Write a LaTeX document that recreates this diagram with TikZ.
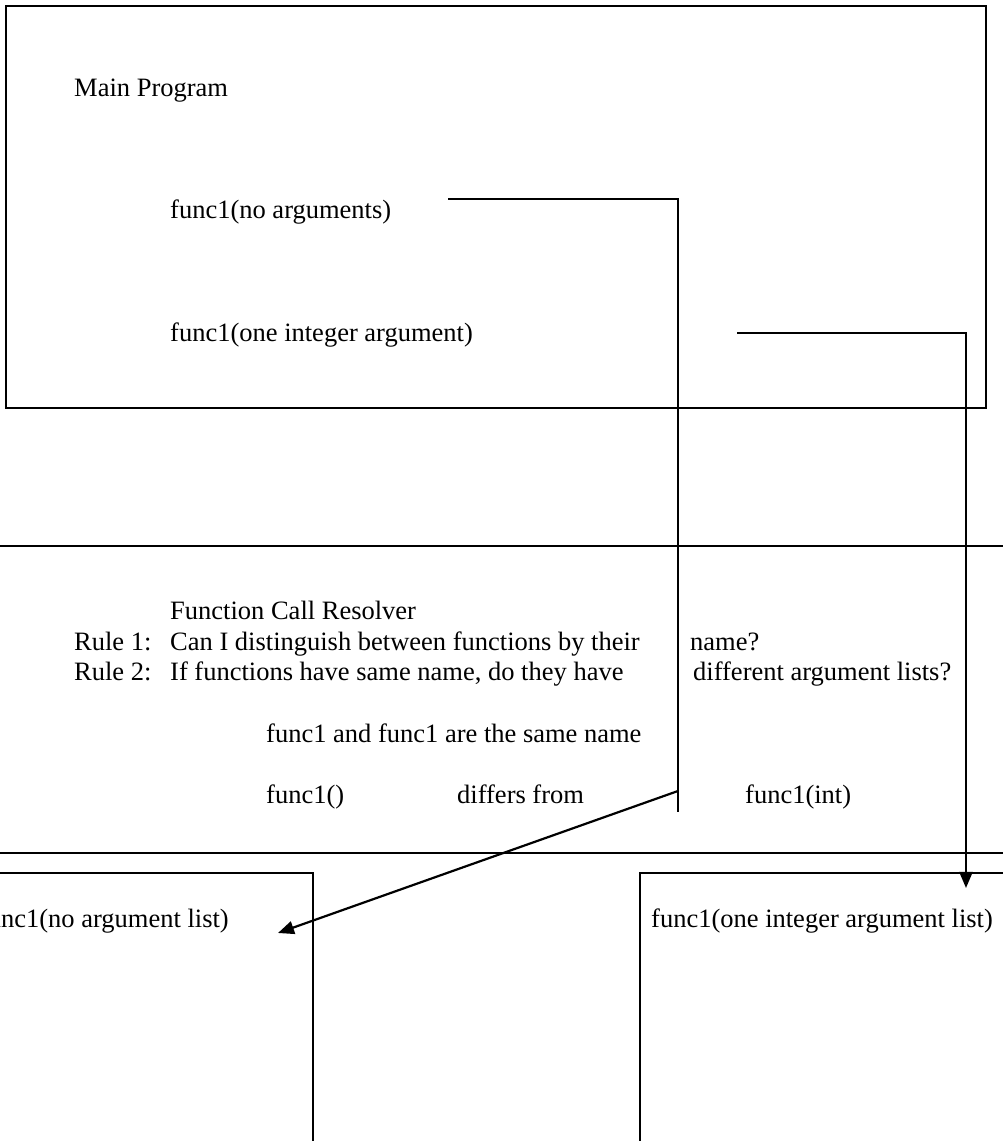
\documentclass[tikz,border=0pt]{standalone}
\usepackage{fontspec}
\setmainfont{Liberation Serif}
\usetikzlibrary{arrows.meta}
\begin{document}
\begin{tikzpicture}[x=1pt,y=1pt,
  txt/.style={anchor=base west,inner sep=0pt,font=\fontsize{26.5}{30}\selectfont},
  frame/.style={line width=2pt},
  thinframe/.style={line width=1.3pt},
  link/.style={line width=2.2pt},
  tip/.style={-{Triangle[length=16pt,width=13pt]}}]
\useasboundingbox (0,0) rectangle (1003,1141);

% main program box
\draw[frame] (6,1135) rectangle (986,733);
\node[txt] (main) at (74,1044) {Main Program};
\node[txt] (call0) at (170,922) {func1(no arguments)};
\node[txt] (call1) at (170,799) {func1(one integer argument)};

% resolver band
\draw[frame] (0,595) -- (1003,595);
\draw[frame] (0,288) -- (1003,288);
\node[txt] (title) at (170,521) {Function Call Resolver};
\node[txt] (r1) at (74,490) {Rule 1:};
\node[txt] (r1a) at (170,490) {Can I distinguish between functions by their};
\node[txt] (r1b) at (690,490) {name?};
\node[txt] (r2) at (74,460) {Rule 2:};
\node[txt] (r2a) at (170,460) {If functions have same name, do they have};
\node[txt] (r2b) at (693,460) {different argument lists?};
\node[txt] (same) at (266,398) {func1 and func1 are the same name};
\node[txt] (f0) at (266,337) {func1()};
\node[txt] (diff) at (457,337) {differs from};
\node[txt] (f1) at (745,337) {func1(int)};

% target function bodies
\draw[thinframe] (-20,268) -- (313,268) -- (313,-20);
\draw[thinframe] (640,-20) -- (640,268) -- (1023,268);
\node[txt,anchor=base east] (def0) at (229,213) {func1(no argument list)};
\node[txt] (def1) at (651,213) {func1(one integer argument list)};

% connectors
\coordinate (s0) at (448,942);
\coordinate (c0) at (678,942);
\coordinate (e0) at (678,329);
\coordinate (b0) at (678,350);
\coordinate (t0) at (278,208);
\coordinate (s1) at (737,808);
\coordinate (c1) at (966,808);
\coordinate (t1) at (966,253);

\draw[link] (s0) -- (c0) -- (e0);
\draw[link,tip] (b0) -- (t0);
\draw[link,tip] (s1) -- (c1) -- (t1);
\end{tikzpicture}
\end{document}
